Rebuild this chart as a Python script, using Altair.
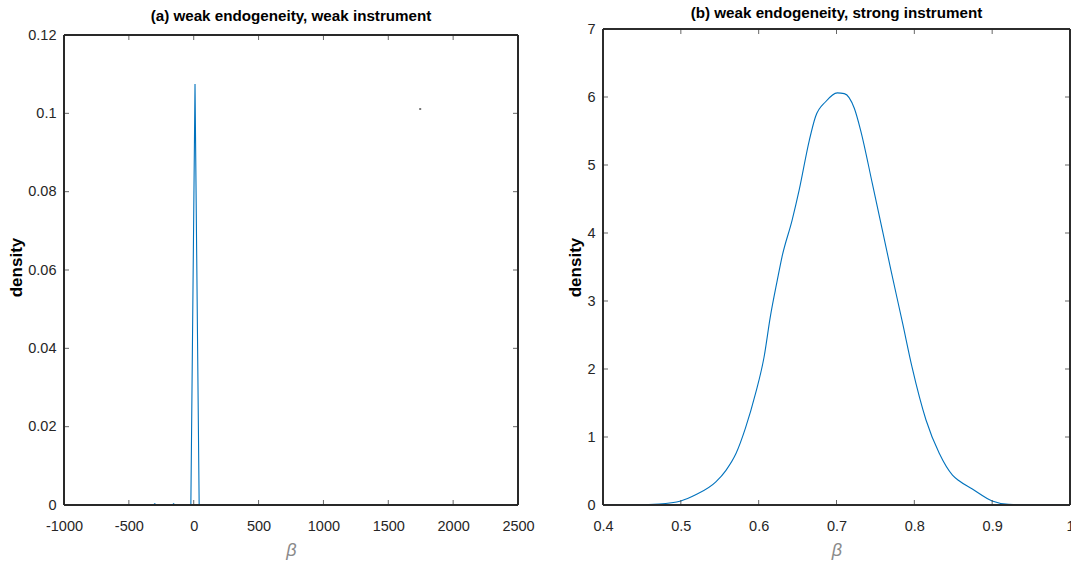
import altair as alt
import pandas as pd

# ---------------- data ----------------
# Panel (a): weak endogeneity, weak instrument
a_beta = [-796, -310, -300, -290, -165, -155, -145, -22, 10, 42, 2383]
a_density = [0, 0, 0.0003, 0, 0, 0.0003, 0, 0, 0.1075, 0, 0]
a_stray_beta = [1746]
a_stray_density = [0.1011]

# Panel (b): weak endogeneity, strong instrument
b_beta = [0.400, 0.432, 0.472, 0.500, 0.519, 0.545, 0.558, 0.571, 0.583, 0.596,
          0.607, 0.615, 0.624, 0.630, 0.643, 0.652, 0.665, 0.673, 0.686, 0.701,
          0.710, 0.723, 0.731, 0.746, 0.759, 0.770, 0.785, 0.797, 0.815, 0.832,
          0.849, 0.857, 0.874, 0.900, 0.921, 0.962, 0.995]
b_density = [0.0, 0.0, 0.015, 0.06, 0.15, 0.34, 0.51, 0.76, 1.13, 1.64,
             2.18, 2.77, 3.31, 3.65, 4.19, 4.63, 5.36, 5.71, 5.93, 6.06,
             6.05, 5.83, 5.51, 4.73, 4.04, 3.45, 2.67, 2.03, 1.25, 0.76,
             0.44, 0.36, 0.24, 0.06, 0.01, 0.0, 0.0]

a_xticks = [-1000, -500, 0, 500, 1000, 1500, 2000, 2500]
a_yticks = [0, 0.02, 0.04, 0.06, 0.08, 0.1, 0.12]
b_xticks = [0.4, 0.5, 0.6, 0.7, 0.8, 0.9, 1]
b_yticks = [0, 1, 2, 3, 4, 5, 6, 7]

LINE = "#0072BD"
AX = "#262626"
FONT = "Liberation Sans"
TICK = 5
HT = 476  # common group height; panel (a)'s box is shorter


def panel(beta, dens, xticks, yticks, title, W, box_h, title_offset,
          interp="linear", stray=None):
    H = HT
    x0, x1 = xticks[0], xticks[-1]
    y0, y1 = yticks[0], yticks[-1]
    ytop_dom = y0 + (y1 - y0) * H / box_h
    xs = alt.Scale(domain=[x0, x1], nice=False, zero=False)
    ys = alt.Scale(domain=[y0, ytop_dom], nice=False, zero=False)
    xaxis = alt.Axis(values=xticks, labelExpr="datum.value + ''", ticks=False,
                     domain=False, grid=False, labelFont=FONT, labelFontSize=14.5,
                     labelColor=AX, labelPadding=14, labelFlush=False,
                     labelOverlap=False, title="β", titleFont=FONT,
                     titleFontSize=18, titleFontStyle="italic", titleFontWeight="normal",
                     titleColor="#8a8a8a", titlePadding=9)
    yaxis = alt.Axis(values=yticks, labelExpr="datum.value + ''", ticks=False,
                     domain=False, grid=False, labelFont=FONT, labelFontSize=14.5,
                     labelColor=AX, labelPadding=8, labelFlush=False,
                     labelOverlap=False, title="density",
                     titleFont=FONT, titleFontSize=17, titleFontWeight="bold",
                     titleColor="#000000", titlePadding=2)
    df = pd.DataFrame({"beta": beta, "density": dens})
    line = alt.Chart(df).mark_line(color=LINE, strokeWidth=1.1, clip=True,
                                   interpolate=interp).encode(
        x=alt.X("beta:Q", scale=xs, axis=xaxis),
        y=alt.Y("density:Q", scale=ys, axis=yaxis),
    )
    xt = pd.DataFrame({"v": xticks[1:-1]})
    yt = pd.DataFrame({"v": yticks[1:-1]})
    rule = dict(color=AX, strokeWidth=1)
    # inward ticks on all four sides
    bot = alt.Chart(xt).mark_tick(orient="vertical", size=TICK, thickness=1,
                                  yOffset=-TICK / 2, color=AX).encode(
        x=alt.X("v:Q", scale=xs), y=alt.Y(datum=y0, scale=ys))
    top = alt.Chart(xt).mark_tick(orient="vertical", size=TICK, thickness=1,
                                  yOffset=TICK / 2, color=AX).encode(
        x=alt.X("v:Q", scale=xs), y=alt.Y(datum=y1, scale=ys))
    left = alt.Chart(yt).mark_tick(orient="horizontal", size=TICK, thickness=1,
                                   xOffset=TICK / 2, color=AX).encode(
        y=alt.Y("v:Q", scale=ys), x=alt.X(datum=x0, scale=xs))
    right = alt.Chart(yt).mark_tick(orient="horizontal", size=TICK, thickness=1,
                                    xOffset=-TICK / 2, color=AX).encode(
        y=alt.Y("v:Q", scale=ys), x=alt.X(datum=x1, scale=xs))
    # box
    f_top = alt.Chart(xt).mark_rule(**rule).encode(
        x=alt.value(0), x2=alt.value(W), y=alt.Y(datum=y1, scale=ys))
    f_bot = alt.Chart(xt).mark_rule(**rule).encode(
        x=alt.value(0), x2=alt.value(W), y=alt.value(H))
    f_left = alt.Chart(xt).mark_rule(**rule).encode(
        x=alt.value(0), y=alt.Y(datum=y0, scale=ys), y2=alt.Y2(datum=y1))
    f_right = alt.Chart(xt).mark_rule(**rule).encode(
        x=alt.value(W), y=alt.Y(datum=y0, scale=ys), y2=alt.Y2(datum=y1))
    layers = [line, bot, top, left, right, f_top, f_bot, f_left, f_right]
    if stray is not None:
        sdf = pd.DataFrame({"beta": stray[0], "density": stray[1]})
        layers.append(alt.Chart(sdf).mark_square(color="#555555", size=4, opacity=0.8).encode(
            x=alt.X("beta:Q", scale=xs), y=alt.Y("density:Q", scale=ys)))
    return alt.layer(*layers).properties(
        width=W, height=H,
        title=alt.TitleParams(title, font=FONT, fontSize=15.2, fontWeight="bold",
                              color="#000000", offset=title_offset, anchor="middle"),
    )


pa = panel(a_beta, a_density, a_xticks, a_yticks,
           "(a) weak endogeneity, weak instrument", 454, 470, 3,
           stray=(a_stray_beta, a_stray_density))
pb = panel(b_beta, b_density, b_xticks, b_yticks,
           "(b) weak endogeneity, strong instrument", 467, 476, 0,
           interp="monotone")

chart = alt.hconcat(pa, pb, spacing=31).configure(
    padding={"left": 7, "top": 5, "right": -4, "bottom": 0},
    background="white",
).configure_view(stroke=None)

chart.save("out.html", embed_options={"renderer": "svg", "actions": False})
